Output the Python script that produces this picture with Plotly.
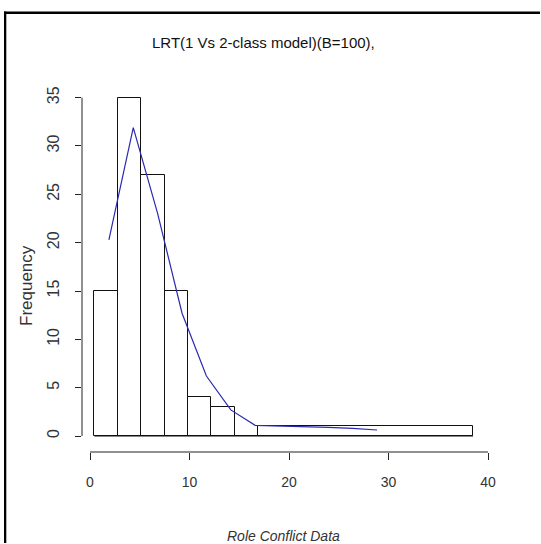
import plotly.graph_objects as go

# Histogram data (bin edges and counts)
bin_edges = [0.45, 2.8, 5.15, 7.5, 9.85, 12.2, 14.55, 16.9, 38.5]
counts = [15, 35, 27, 15, 4, 3, 0, 1]

# Overlay line (blue)
line_x = [1.9, 4.35, 6.8, 9.25, 11.7, 14.15, 16.6, 19.05, 21.5, 23.95, 26.4, 28.85]
line_y = [20.3, 31.9, 23.0, 12.7, 6.2, 2.7, 1.1, 1.05, 0.97, 0.9, 0.78, 0.62]

x_ticks = [0, 10, 20, 30, 40]
y_ticks = [0, 5, 10, 15, 20, 25, 30, 35]

title_text = "LRT(1 Vs 2-class model)(B=100),"
x_title = "Role Conflict Data"
y_title = "Frequency"

mids = [(a + b) / 2 for a, b in zip(bin_edges[:-1], bin_edges[1:])]
widths = [b - a for a, b in zip(bin_edges[:-1], bin_edges[1:])]

FONT = "Liberation Sans, Arial, sans-serif"

fig = go.Figure()
fig.add_trace(go.Bar(
    x=mids, y=counts, width=widths, base=0,
    marker=dict(color="white", line=dict(color="#111111", width=1)),
    showlegend=False, hoverinfo="skip",
))
fig.add_trace(go.Scatter(
    x=line_x, y=line_y, mode="lines",
    line=dict(color="#2a2ab0", width=1.2),
    showlegend=False, hoverinfo="skip",
))

# Plot area geometry (pixels)
L, R, T, B = 82, 49, 84, 92
W, H = 541, 544
pw, ph = W - L - R, H - T - B
x0_px, xscale = 90.0, 9.95
y0_px, yscale = 436.0, 9.667
xr = [(L - x0_px) / xscale, (L + pw - x0_px) / xscale]
yr = [-(T + ph - y0_px) / yscale, (y0_px - T) / yscale]

def px_x(p):
    return (p - L) / pw

def px_y(p):
    return (T + ph - p) / ph

fig.update_layout(
    width=W, height=H,
    margin=dict(l=L, r=R, t=T, b=B, autoexpand=False),
    paper_bgcolor="white", plot_bgcolor="white",
    font=dict(family=FONT, color="#333333"),
    bargap=0,
    xaxis=dict(range=xr, tickvals=x_ticks, ticktext=[str(v) for v in x_ticks],
               ticks="outside", ticklen=7, tickwidth=1, tickcolor="#222222",
               showgrid=False, zeroline=False, showline=False,
               tickfont=dict(size=14, color="#333333"), ticklabelstandoff=10),
    yaxis=dict(range=yr, tickvals=y_ticks, ticktext=[str(v) for v in y_ticks],
               ticks="outside", ticklen=6, tickwidth=1, tickcolor="#222222",
               showgrid=False, zeroline=False, showline=False, tickangle=-90,
               tickfont=dict(size=16, color="#333333"), ticklabelstandoff=10),
    shapes=[
        # baseline under the bars (covers the zero-height bin)
        dict(type="line", xref="x", yref="y", x0=bin_edges[0], x1=bin_edges[-1], y0=0, y1=0,
             line=dict(color="#111111", width=1)),
        # x axis line (R style, from first to last tick)
        dict(type="line", xref="x", yref="paper", x0=x_ticks[0], x1=x_ticks[-1], y0=0, y1=0,
             line=dict(color="#222222", width=1)),
        # y axis line
        dict(type="line", xref="paper", yref="y", x0=0, x1=0, y0=y_ticks[0], y1=y_ticks[-1],
             line=dict(color="#222222", width=1)),
        # outer frame: top edge
        dict(type="rect", xref="paper", yref="paper", x0=px_x(4), x1=px_x(W - 1),
             y0=px_y(14), y1=px_y(11.5),
             line=dict(width=0), fillcolor="#000000", layer="above"),
        # outer frame: left edge
        dict(type="rect", xref="paper", yref="paper", x0=px_x(4), x1=px_x(6.3),
             y0=px_y(H - 1), y1=px_y(11.5),
             line=dict(width=0), fillcolor="#000000", layer="above"),
    ],
    annotations=[
        dict(text=title_text, xref="paper", yref="paper", x=px_x(263.5), y=px_y(43),
             showarrow=False, font=dict(size=15, color="#111111", family=FONT),
             xanchor="center", yanchor="middle"),
        dict(text="<i>" + x_title + "</i>", xref="paper", yref="paper", x=px_x(283), y=px_y(536),
             showarrow=False, font=dict(size=14, color="#333333", family=FONT),
             xanchor="center", yanchor="middle"),
        dict(text=y_title, xref="paper", yref="paper", x=px_x(26), y=px_y(285), textangle=-90,
             showarrow=False, font=dict(size=17, color="#333333", family=FONT),
             xanchor="center", yanchor="middle"),
    ],
)

fig.write_html("out.html", config={"displayModeBar": False},
               post_script="document.body.style.margin='0';document.body.style.overflow='hidden';")
